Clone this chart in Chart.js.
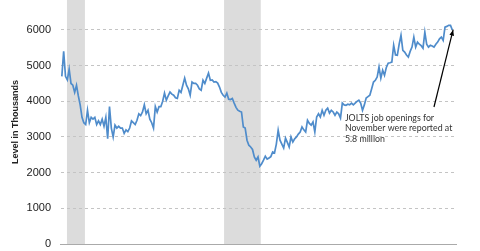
<!DOCTYPE html>
<html>
<head>
<title>JOLTS job openings</title>
<script src="https://cdn.jsdelivr.net/npm/chart.js@4.4.0/dist/chart.umd.min.js"></script>
<style>
  body { margin: 0; background: #fff; }
  #wrap { width: 480px; height: 251px; }
</style>
</head>
<body>
<div id="wrap"><canvas id="chart"></canvas></div>
<script>
// monthly job openings (thousands), first month Dec 2000
const openings = [
  4700, 5400, 4700, 4600, 4900, 4500, 4450, 4250, 4450, 4150,
  3900, 3550, 3400, 3350, 3750, 3400, 3550, 3500, 3550, 3350,
  3450, 3350, 3500, 3300, 3550, 2950, 3850, 3250, 3000, 3330,
  3250, 3300, 3250, 3250, 3100, 3200, 3150, 3250, 3450, 3400,
  3350, 3470, 3650, 3600, 3700, 3900, 3650, 3750, 3500, 3400,
  3250, 3850, 3700, 3850, 3850, 4000, 4230, 4030, 4150, 4260,
  4200, 4170, 4100, 4080, 4310, 4250, 4450, 4650, 4450, 4350,
  4170, 4540, 4500, 4500, 4450, 4350, 4310, 4590, 4500, 4650,
  4790, 4590, 4600, 4540, 4550, 4510, 4400, 4250, 4170, 4120,
  4230, 4060, 4050, 4080, 3950, 3830, 3750, 3720, 3700, 3280,
  3250, 2910, 2770, 2720, 2650, 2440, 2350, 2440, 2180, 2250,
  2350, 2460, 2380, 2410, 2450, 2580, 2550, 2800, 3190, 2910,
  2800, 2690, 2970, 2850, 2720, 3000, 2860, 2950, 3000, 3080,
  3140, 3280, 3200, 3140, 3470, 3380, 3330, 3420, 3140, 3560,
  3650, 3560, 3750, 3610, 3750, 3810, 3670, 3750, 3700, 3610,
  3700, 3650, 3530, 3950, 3900, 3890, 3920, 3900, 3950, 3900,
  3950, 4000, 4030, 3950, 3750, 3900, 4090, 4130, 4170, 4350,
  4540, 4590, 4680, 4960, 4650, 4870, 4730, 4950, 5070, 5080,
  5100, 5570, 5300, 5290, 5600, 5850, 5430, 5380, 5300, 5240,
  5400, 5520, 5800, 5520, 5660, 5600, 5560, 5490, 5940, 5600,
  5520, 5570, 5550, 5520, 5600, 5660, 5750, 5800, 5710, 6080,
  6100, 6130, 6130, 6000
];

// recession shading, in month index units
const recessionStart = [2.8, 88.5];
const recessionEnd = [12.6, 108.5];

const yTicks = [0, 1000, 2000, 3000, 4000, 5000, 6000];

const noteLines = ['JOLTS job openings for', 'November were reported at', '5.8 million'];
const notePos = [154.4, 3530];
const arrowFrom = [203, 3840];
const arrowTo = [213.4, 6000];

const points = openings.map((v, i) => ({ x: i, y: v }));

const bands = {
  id: 'bands',
  beforeDraw(chart) {
    const { ctx, chartArea, scales } = chart;
    ctx.save();
    ctx.fillStyle = '#dcdcdc';
    recessionStart.forEach((s, i) => {
      const x1 = scales.x.getPixelForValue(s);
      const x2 = scales.x.getPixelForValue(recessionEnd[i]);
      ctx.fillRect(x1, chartArea.top, x2 - x1, chartArea.bottom - chartArea.top);
    });
    ctx.restore();
  }
};

const note = {
  id: 'note',
  afterDatasetsDraw(chart) {
    const { ctx, scales } = chart;
    ctx.save();
    // arrow
    const x1 = scales.x.getPixelForValue(arrowFrom[0]);
    const y1 = scales.y.getPixelForValue(arrowFrom[1]);
    const x2 = scales.x.getPixelForValue(arrowTo[0]);
    const y2 = scales.y.getPixelForValue(arrowTo[1]);
    ctx.strokeStyle = '#000';
    ctx.lineWidth = 1.2;
    ctx.beginPath();
    ctx.moveTo(x1, y1);
    ctx.lineTo(x2, y2);
    ctx.stroke();
    const a = Math.atan2(y2 - y1, x2 - x1);
    ctx.fillStyle = '#000';
    ctx.beginPath();
    ctx.moveTo(x2, y2);
    ctx.lineTo(x2 - 6 * Math.cos(a - 0.4), y2 - 6 * Math.sin(a - 0.4));
    ctx.lineTo(x2 - 6 * Math.cos(a + 0.4), y2 - 6 * Math.sin(a + 0.4));
    ctx.closePath();
    ctx.fill();
    // text
    ctx.fillStyle = '#333';
    ctx.font = '8.8px Lato';
    ctx.textBaseline = 'middle';
    const tx = scales.x.getPixelForValue(notePos[0]);
    const ty = scales.y.getPixelForValue(notePos[1]);
    noteLines.forEach((t, i) => ctx.fillText(t, tx, ty + i * 10.5));
    ctx.restore();
  }
};

new Chart(document.getElementById('chart'), {
  type: 'line',
  data: {
    datasets: [{
      data: points,
      borderColor: '#4f8ccb',
      borderWidth: 1.7,
      pointRadius: 0,
      tension: 0
    }]
  },
  options: {
    responsive: true,
    maintainAspectRatio: false,
    animation: false,
    layout: { padding: { top: 0, right: 24, bottom: 7, left: 0 } },
    plugins: { legend: { display: false }, tooltip: { enabled: false } },
    scales: {
      x: {
        type: 'linear',
        min: -1,
        max: 215,
        grid: { display: false },
        ticks: { display: false },
        border: { color: '#aaa', width: 1 },
        afterFit(scale) {
          scale.height = 0;
          scale.paddingLeft = 0;
          scale.paddingRight = 0;
        }
      },
      y: {
        min: 0,
        max: 6840,
        afterBuildTicks(scale) { scale.ticks = yTicks.map(v => ({ value: v })); },
        afterFit(scale) {
          scale.width = 60;
          scale.paddingTop = 0;
          scale.paddingBottom = 0;
        },
        grid: { color: '#c4c4c4', drawTicks: false },
        border: { display: true, color: 'rgba(0,0,0,0)', dash: [3, 3] },
        ticks: {
          padding: 9,
          color: '#222',
          font: { family: 'Liberation Sans', size: 11 },
          callback: v => String(v)
        },
        title: {
          display: true,
          text: 'Level in Thousands',
          color: '#222',
          padding: { top: 10, bottom: 0 },
          font: { family: 'Liberation Sans', size: 9, weight: 'bold' }
        }
      }
    }
  },
  plugins: [bands, note]
});
</script>
</body>
</html>
